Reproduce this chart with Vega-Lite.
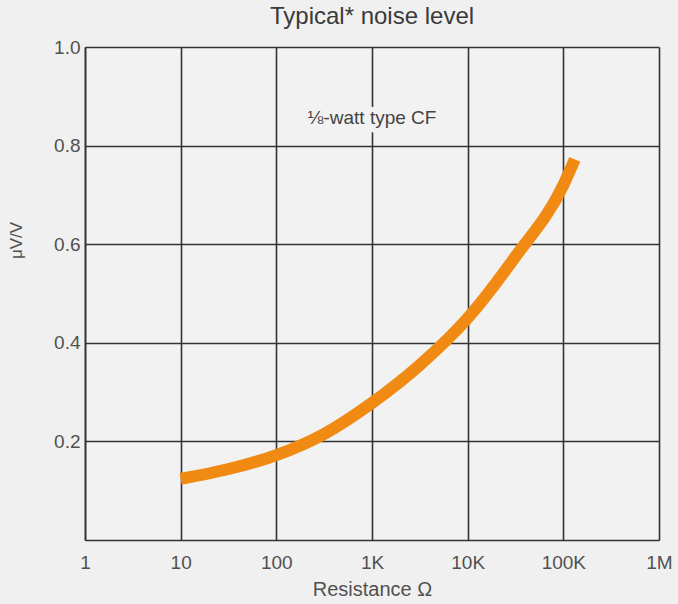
{
  "$schema": "https://vega.github.io/schema/vega-lite/v6.json",
  "autosize": "none",
  "width": 574,
  "height": 493,
  "padding": {"left": 85, "top": 47, "right": 19, "bottom": 64},
  "background": "#f0f0f0",
  "title": {
    "text": "Typical* noise level",
    "font": "Liberation Sans",
    "fontSize": 24,
    "fontWeight": "normal",
    "color": "#3a3a3a",
    "anchor": "middle",
    "offset": 9
  },
  "config": {
    "view": {"stroke": null, "fill": "#f2f2f2"},
    "axis": {
      "labelFont": "Liberation Sans",
      "titleFont": "Liberation Sans",
      "labelColor": "#505050",
      "titleColor": "#505050",
      "labelFontSize": 19,
      "titleFontSize": 20,
      "titleFontWeight": "normal",
      "gridColor": "#333333",
      "gridOpacity": 1,
      "gridWidth": 1.6,
      "domainColor": "#333333",
      "domainWidth": 1.6,
      "ticks": false
    }
  },
  "datasets": {
    "curve": [
      {"R": 10, "v": 0.124},
      {"R": 31.6, "v": 0.144},
      {"R": 100, "v": 0.172},
      {"R": 316, "v": 0.215},
      {"R": 1000, "v": 0.278},
      {"R": 3162, "v": 0.355},
      {"R": 10000, "v": 0.45},
      {"R": 31623, "v": 0.575},
      {"R": 100000, "v": 0.72},
      {"R": 131800, "v": 0.772}
    ],
    "note": [{"R": 1000, "v": 0.856, "label": "⅛-watt type CF"}]
  },
  "encoding": {
    "x": {
      "field": "R",
      "type": "quantitative",
      "scale": {"type": "log", "domain": [1, 1000000], "nice": false},
      "axis": {
        "values": [1, 10, 100, 1000, 10000, 100000, 1000000],
        "labelExpr": "datum.value >= 1000000 ? '1M' : datum.value >= 1000 ? (datum.value / 1000) + 'K' : datum.value + ''",
        "labelPadding": 13,
        "labelFlush": false,
        "labelOverlap": false,
        "title": "Resistance Ω",
        "titlePadding": 7,
        "grid": true
      }
    },
    "y": {
      "field": "v",
      "type": "quantitative",
      "scale": {"domain": [0, 1], "nice": false, "zero": true},
      "axis": {
        "values": [0.2, 0.4, 0.6, 0.8, 1.0],
        "format": ".1f",
        "labelPadding": 5,
        "title": "μV/V",
        "titleFontSize": 17,
        "titleX": -60,
        "titleY": 193,
        "grid": true
      }
    }
  },
  "layer": [
    {
      "data": {"name": "curve"},
      "mark": {"type": "line", "color": "#f08a12", "strokeWidth": 12, "strokeCap": "butt", "interpolate": "monotone"}
    },
    {
      "data": {"name": "note"},
      "mark": {"type": "text", "font": "Liberation Sans", "fontSize": 19, "stroke": "#f2f2f2", "strokeWidth": 10, "color": "#f2f2f2"},
      "encoding": {"text": {"field": "label"}}
    },
    {
      "data": {"name": "note"},
      "mark": {"type": "text", "font": "Liberation Sans", "fontSize": 19, "color": "#444444"},
      "encoding": {"text": {"field": "label"}}
    }
  ]
}
